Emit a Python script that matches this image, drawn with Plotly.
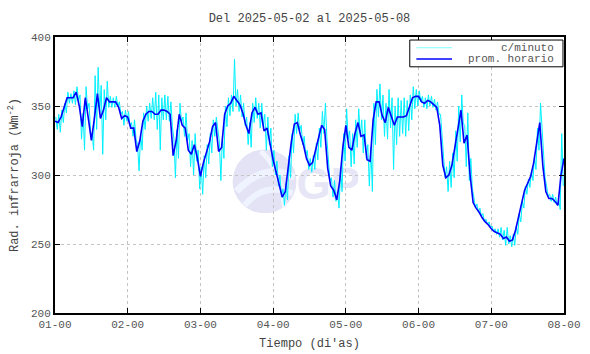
import base64
import numpy as np
import plotly.graph_objects as go

# x tick labels (day-hour)
tick_labels = ["01-00", "02-00", "03-00", "04-00", "05-00", "06-00", "07-00", "08-00"]
series_names = ["c/minuto", "prom. horario"]

# hourly mean (prom. horario), one value per hour, 7 days + closing point
hourly_day1 = [339, 338, 342, 349, 356, 356, 356, 360, 350, 335, 356, 341, 325, 341, 359, 341, 347, 356, 353, 353, 353, 349, 341, 343]
hourly_day2 = [342, 334, 334, 317, 325, 339, 344, 346, 346, 344, 344, 347, 347, 346, 344, 314, 325, 344, 336, 334, 318, 315, 322, 312]
hourly_day3 = [299, 309, 317, 324, 335, 338, 317, 320, 344, 350, 352, 357, 354, 351, 345, 336, 330, 345, 349, 344, 345, 332, 334, 322]
hourly_day4 = [311, 302, 293, 284, 288, 306, 324, 337, 338, 329, 322, 312, 307, 309, 317, 327, 336, 333, 305, 292, 289, 282, 296, 320]
hourly_day5 = [336, 320, 318, 330, 338, 328, 329, 311, 310, 340, 353, 353, 343, 338, 349, 343, 336, 342, 342, 342, 343, 349, 356, 357]
hourly_day6 = [357, 353, 352, 354, 353, 351, 349, 336, 307, 298, 300, 307, 320, 335, 347, 323, 329, 300, 280, 276, 273, 269, 266, 264]
hourly_day7 = [261, 259, 258, 257, 254, 255, 252, 253, 260, 269, 278, 289, 294, 299, 309, 325, 338, 307, 288, 283, 283, 281, 278, 300]
hourly_end = [312]

# per-minute readings (c/minuto), sampled twice per hour (at :15 and :45)
minute_day1 = [342, 333, 344, 331, 347, 338, 352, 345, 360, 352, 359, 352, 361, 351, 364, 354,
               358, 326, 345, 318, 364, 348, 352, 330, 331, 318, 372, 333, 378, 345, 365, 315,
               362, 340, 368, 349, 357, 349, 356, 349, 357, 350, 353, 344, 346, 336, 347, 339]
minute_day2 = [346, 336, 338, 328, 340, 326, 322, 303, 330, 318, 345, 333, 350, 339, 352, 341,
               356, 340, 360, 333, 358, 318, 356, 340, 358, 340, 357, 339, 353, 335, 326, 298,
               333, 312, 352, 338, 342, 328, 345, 325, 330, 306, 325, 300, 330, 310, 318, 290]
minute_day3 = [306, 286, 314, 298, 322, 308, 330, 316, 340, 328, 342, 332, 324, 296, 328, 312,
               350, 335, 356, 343, 358, 346, 384, 350, 362, 346, 358, 342, 352, 336, 342, 322,
               338, 320, 352, 338, 356, 341, 352, 334, 352, 336, 344, 318, 342, 322, 334, 306]
minute_day4 = [318, 300, 310, 292, 300, 284, 290, 278, 294, 282, 314, 298, 330, 316, 344, 330,
               345, 332, 336, 322, 328, 314, 318, 304, 312, 302, 314, 304, 323, 311, 334, 320,
               346, 330, 352, 326, 312, 296, 298, 284, 296, 281, 288, 276, 306, 288, 330, 310]
minute_day5 = [348, 326, 332, 306, 330, 308, 340, 320, 348, 328, 340, 316, 340, 312, 322, 292,
               320, 288, 352, 322, 362, 342, 366, 340, 358, 328, 352, 326, 362, 334, 356, 304,
               350, 322, 356, 328, 354, 330, 356, 328, 354, 332, 358, 340, 364, 348, 362, 350]
minute_day6 = [361, 353, 357, 349, 356, 348, 358, 350, 357, 349, 355, 347, 353, 344, 344, 328,
               316, 298, 306, 288, 310, 291, 316, 298, 332, 310, 350, 324, 358, 338, 335, 306,
               345, 296, 312, 290, 284, 276, 279, 273, 276, 270, 272, 266, 268, 264, 266, 262]
minute_day7 = [263, 259, 261, 257, 261, 255, 262, 253, 260, 249, 262, 250, 256, 248, 257, 249,
               263, 257, 272, 266, 281, 276, 292, 286, 297, 291, 303, 296, 314, 304, 334, 318,
               352, 332, 318, 298, 292, 285, 286, 281, 286, 280, 284, 278, 282, 275, 330, 292]

hourly = hourly_day1 + hourly_day2 + hourly_day3 + hourly_day4 + hourly_day5 + hourly_day6 + hourly_day7 + hourly_end
minute = minute_day1 + minute_day2 + minute_day3 + minute_day4 + minute_day5 + minute_day6 + minute_day7

x_hourly = np.arange(len(hourly)) / 24.0
x_minute = (np.arange(len(minute)) * 0.5 + 0.25) / 24.0

font_family = "Liberation Mono, Courier New, monospace"
text_color = "#555555"
cyan = "#00f0ff"
blue = "#0000ff"

# faint watermark logo behind the plot (inline SVG, no network)
logo_svg = (
    '<svg xmlns="http://www.w3.org/2000/svg" width="128" height="66" viewBox="0 0 128 66">'
    '<circle cx="34" cy="34" r="32" fill="#e3e3f5"/>'
    '<path d="M6 44 Q34 14 64 30" stroke="#eef3ff" stroke-width="7" fill="none"/>'
    '<path d="M14 58 Q34 34 62 46" stroke="#eef3ff" stroke-width="6" fill="none"/>'
    '<path d="M30 4 Q50 20 54 60" stroke="#f2f4ff" stroke-width="5" fill="none"/>'
    '<text x="66" y="52" font-family="Liberation Sans, Arial" font-weight="bold" font-size="44" fill="#e6e6f6">GP</text>'
    '</svg>'
)
logo_src = "data:image/svg+xml;base64," + base64.b64encode(logo_svg.encode()).decode()

fig = go.Figure()
fig.add_trace(go.Scatter(x=x_minute, y=minute, mode="lines",
                         line=dict(color=cyan, width=1), name=series_names[0], showlegend=False))
fig.add_trace(go.Scatter(x=x_hourly, y=hourly, mode="lines",
                         line=dict(color=blue, width=1.6), name=series_names[1], showlegend=False))

fig.add_layout_image(dict(source=logo_src, xref="paper", yref="paper",
                          x=0.345, y=0.6, sizex=0.251, sizey=0.239,
                          xanchor="left", yanchor="top", sizing="stretch",
                          layer="below", opacity=1))

# legend drawn manually (box, sample lines, right-aligned labels) in paper coordinates
fig.add_shape(type="rect", xref="paper", yref="paper", x0=0.697, x1=0.998, y0=0.892, y1=0.989,
              line=dict(color="black", width=1), fillcolor="white", layer="above")
fig.add_shape(type="line", xref="paper", yref="paper", x0=0.71, x1=0.78, y0=0.961, y1=0.961,
              line=dict(color="#80ffff", width=1), layer="above")
fig.add_shape(type="line", xref="paper", yref="paper", x0=0.71, x1=0.78, y0=0.920, y1=0.920,
              line=dict(color=blue, width=1.5), layer="above")
fig.add_annotation(xref="paper", yref="paper", x=0.985, y=0.961, xanchor="right", yanchor="middle",
                   text=series_names[0], showarrow=False,
                   font=dict(family=font_family, size=11, color=text_color))
fig.add_annotation(xref="paper", yref="paper", x=0.985, y=0.920, xanchor="right", yanchor="middle",
                   text=series_names[1], showarrow=False,
                   font=dict(family=font_family, size=11, color=text_color))

fig.update_layout(
    width=590, height=354,
    margin=dict(l=55, r=26, t=37, b=41, autoexpand=False),
    plot_bgcolor="rgba(0,0,0,0)", paper_bgcolor="white",
    font=dict(family=font_family, size=11, color=text_color),
    title=dict(text="Del 2025-05-02 al 2025-05-08", x=0.5, xref="paper", xanchor="center",
               y=1 - 18 / 354, yref="container", yanchor="middle",
               font=dict(family=font_family, size=12, color="#444444")),
    showlegend=False,
)

fig.update_xaxes(range=[0, 7], tickvals=list(range(8)), ticktext=tick_labels,
                 showgrid=True, gridcolor="#c4c4c4", griddash="dot", gridwidth=1,
                 showline=True, linecolor="black", linewidth=2, mirror="ticks",
                 ticks="inside", ticklen=5, tickcolor="black", tickwidth=1,
                 zeroline=False, automargin=False,
                 title=dict(text="Tiempo (di'as)", font=dict(size=12, color="#444444"), standoff=8))
fig.update_yaxes(range=[200, 400], tickvals=[200, 250, 300, 350, 400],
                 showgrid=True, gridcolor="#c4c4c4", griddash="dot", gridwidth=1,
                 showline=True, linecolor="black", linewidth=2, mirror="ticks",
                 ticks="inside", ticklen=5, tickcolor="black", tickwidth=1,
                 zeroline=False, automargin=False,
                 title=dict(text="Rad. infrarroja (Wm<sup>-2</sup>)", font=dict(size=12, color="#444444"), standoff=10))

fig.write_html("out.html")
